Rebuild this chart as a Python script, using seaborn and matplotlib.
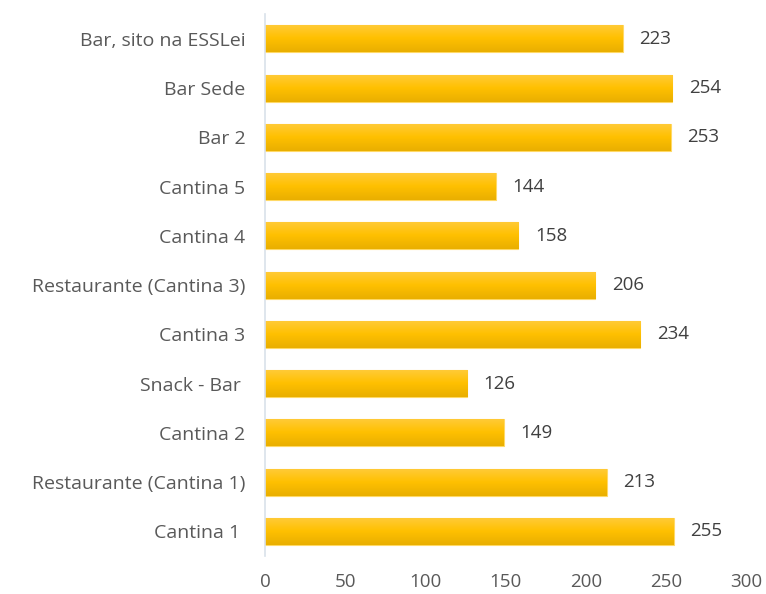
import numpy as np
import pandas as pd
import matplotlib
matplotlib.use("Agg")
import matplotlib.pyplot as plt
import seaborn as sns

# dados do grafico (de cima para baixo)
locais = ["Bar, sito na ESSLei", "Bar Sede", "Bar 2", "Cantina 5", "Cantina 4",
          "Restaurante (Cantina 3)", "Cantina 3", "Snack - Bar ", "Cantina 2",
          "Restaurante (Cantina 1)", "Cantina 1 "]
valores = [223, 254, 253, 144, 158, 206, 234, 126, 149, 213, 255]
xticks = [0, 50, 100, 150, 200, 250, 300]

df = pd.DataFrame({"local": locais, "valor": valores})

sns.set_style("white")
plt.rcParams['font.family'] = ['Open Sans', 'DejaVu Sans']

fig = plt.figure(figsize=(7.66, 5.94), dpi=100)
ax = fig.add_axes([0.346, 0.064, 0.628, 0.912])

sns.barplot(data=df, x="valor", y="local", orient="h", color="#FFC000",
            width=0.55, saturation=1, ax=ax)

# gradiente nas barras (claro em cima, mais escuro em baixo)
grad = np.linspace(0, 1, 64).reshape(-1, 1)
cmap = matplotlib.colors.LinearSegmentedColormap.from_list(
    "amarelo", ["#FFCB3A", "#FFC000", "#E9AF00"])
for p in ax.patches:
    x0, y0 = p.get_x(), p.get_y()
    w, h = p.get_width(), p.get_height()
    im = ax.imshow(grad, cmap=cmap, aspect="auto",
                   extent=[x0, x0 + w, y0 + h, y0], zorder=p.get_zorder() + 0.1)
    im.set_clip_path(p)
    p.set_edgecolor("#FFD966")
    p.set_linewidth(0.8)

ax.bar_label(ax.containers[0], labels=[str(v) for v in valores], padding=12,
             fontsize=13.5, color="#404040")

ax.set_xlim(0, 300)
ax.set_ylim(10.5, -0.5)
ax.set_xticks(xticks)
ax.set_xticklabels([str(t) for t in xticks])
ax.set_xlabel("")
ax.set_ylabel("")
ax.tick_params(axis="x", length=0, pad=12, labelsize=13.5, labelcolor="#595959")
ax.tick_params(axis="y", length=0, pad=14, labelsize=14, labelcolor="#595959")

for s in ["top", "right", "bottom"]:
    ax.spines[s].set_visible(False)
ax.spines["left"].set_color("#D9E1EA")
ax.spines["left"].set_linewidth(1.2)

fig.savefig("out.png", dpi=100)
